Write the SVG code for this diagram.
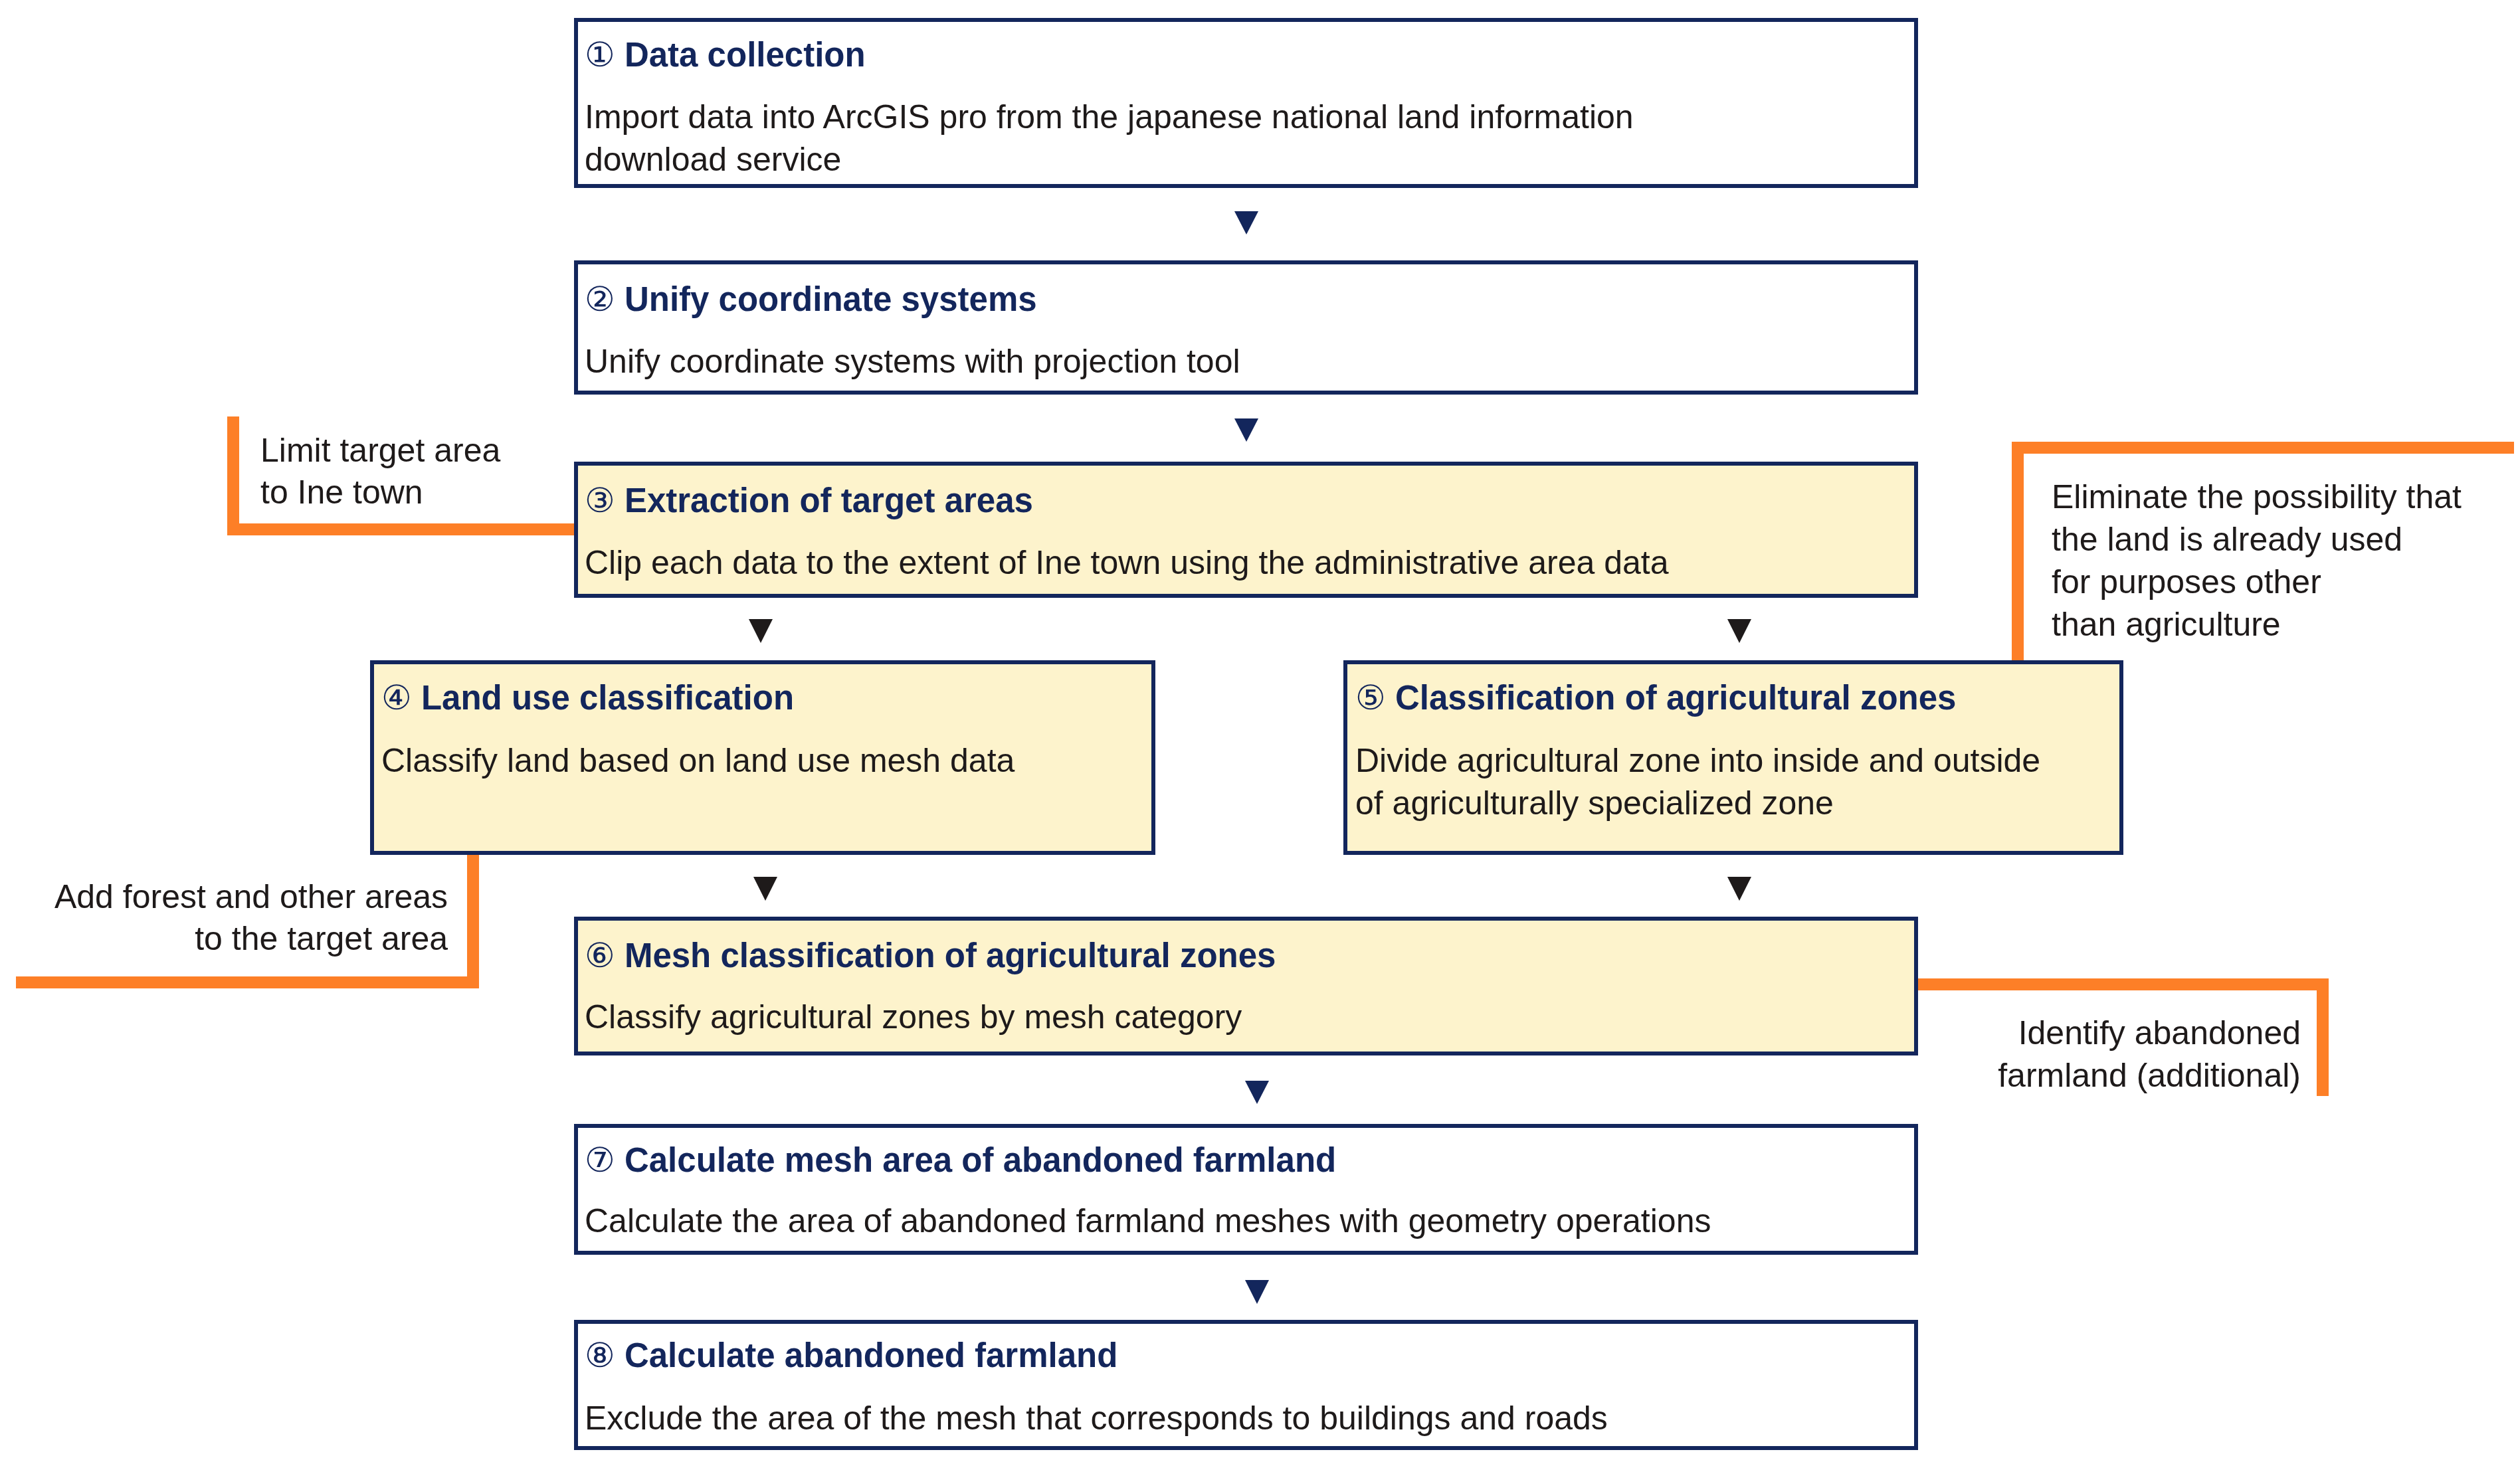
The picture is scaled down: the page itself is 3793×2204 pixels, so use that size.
<svg xmlns="http://www.w3.org/2000/svg" width="3793" height="2204" viewBox="0 0 3793 2204">
<style>
.box{stroke:#13265c;stroke-width:6}
.w{fill:#ffffff}.y{fill:#fdf3cc}
.t{font-family:"Liberation Sans","DejaVu Sans",sans-serif;font-size:51px;font-weight:bold;fill:#13265c}
.n{font-weight:normal;font-family:"DejaVu Sans","Liberation Sans",sans-serif}
.b{font-family:"Liberation Sans","DejaVu Sans",sans-serif;font-size:50px;fill:#1e1a1a}
.o{fill:none;stroke:#fd7f27;stroke-width:18}
.an{fill:#13265c}.ab{fill:#1e1a1a}
</style>
<rect width="3793" height="2204" fill="#ffffff"/>
<g id="connectors">
<polygon class="an" points="1858,318 1894,318 1876,353"/>
<polygon class="an" points="1858,630 1894,630 1876,665"/>
<polygon class="ab" points="1127,932 1163,932 1145,968"/>
<polygon class="ab" points="2600,932 2636,932 2618,968"/>
<polygon class="ab" points="1134,1320 1170,1320 1152,1356"/>
<polygon class="ab" points="2600,1320 2636,1320 2618,1356"/>
<polygon class="an" points="1874,1627 1910,1627 1892,1662"/>
<polygon class="an" points="1874,1927 1910,1927 1892,1963"/>
<polyline class="o" points="351,627 351,797 864,797"/>
<polyline class="o" points="712,1284 712,1479 24,1479"/>
<polyline class="o" points="3037,994 3037,674 3784,674"/>
<polyline class="o" points="2884,1482 3496,1482 3496,1650"/>
</g>
<g id="note1"><text class="b" x="392" y="695">Limit target area</text><text class="b" x="392" y="758">to Ine town</text></g>
<g id="note2"><text class="b" x="674" y="1367" text-anchor="end">Add forest and other areas</text><text class="b" x="674" y="1430" text-anchor="end">to the target area</text></g>
<g id="note3"><text class="b" x="3088" y="765">Eliminate the possibility that</text><text class="b" x="3088" y="829">the land is already used</text><text class="b" x="3088" y="893">for purposes other</text><text class="b" x="3088" y="957">than agriculture</text></g>
<g id="note4"><text class="b" x="3463" y="1572" text-anchor="end">Identify abandoned</text><text class="b" x="3463" y="1636" text-anchor="end">farmland (additional)</text></g>
<g id="n1"><rect class="box w" x="867" y="30" width="2017" height="250"/>
<text class="t" x="880" y="100"><tspan class="n">①</tspan> Data collection</text>
<text class="b" x="880" y="193">Import data into ArcGIS pro from the japanese national land information</text>
<text class="b" x="880" y="257">download service</text></g>
<g id="n2"><rect class="box w" x="867" y="395" width="2017" height="196"/>
<text class="t" x="880" y="468"><tspan class="n">②</tspan> Unify coordinate systems</text>
<text class="b" x="880" y="561">Unify coordinate systems with projection tool</text></g>
<g id="n3"><rect class="box y" x="867" y="698" width="2017" height="199"/>
<text class="t" x="880" y="771"><tspan class="n">③</tspan> Extraction of target areas</text>
<text class="b" x="880" y="864">Clip each data to the extent of Ine town using the administrative area data</text></g>
<g id="n4"><rect class="box y" x="560" y="997" width="1176" height="287"/>
<text class="t" x="574" y="1068"><tspan class="n">④</tspan> Land use classification</text>
<text class="b" x="574" y="1162">Classify land based on land use mesh data</text></g>
<g id="n5"><rect class="box y" x="2025" y="997" width="1168" height="287"/>
<text class="t" x="2040" y="1068"><tspan class="n">⑤</tspan> Classification of agricultural zones</text>
<text class="b" x="2040" y="1162">Divide agricultural zone into inside and outside</text>
<text class="b" x="2040" y="1226">of agriculturally specialized zone</text></g>
<g id="n6"><rect class="box y" x="867" y="1383" width="2017" height="203"/>
<text class="t" x="880" y="1456"><tspan class="n">⑥</tspan> Mesh classification of agricultural zones</text>
<text class="b" x="880" y="1548">Classify agricultural zones by mesh category</text></g>
<g id="n7"><rect class="box w" x="867" y="1695" width="2017" height="191"/>
<text class="t" x="880" y="1764"><tspan class="n">⑦</tspan> Calculate mesh area of abandoned farmland</text>
<text class="b" x="880" y="1855">Calculate the area of abandoned farmland meshes with geometry operations</text></g>
<g id="n8"><rect class="box w" x="867" y="1990" width="2017" height="190"/>
<text class="t" x="880" y="2058"><tspan class="n">⑧</tspan> Calculate abandoned farmland</text>
<text class="b" x="880" y="2152">Exclude the area of the mesh that corresponds to buildings and roads</text></g>
</svg>
